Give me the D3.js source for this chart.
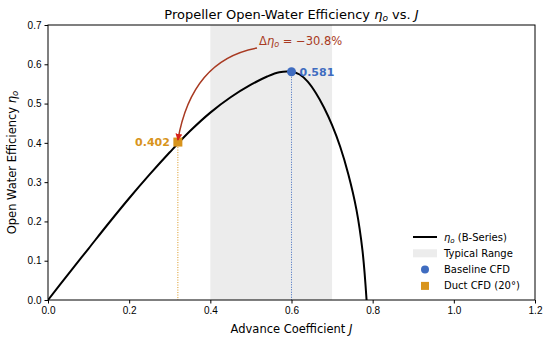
<!DOCTYPE html>
<html>
<head>
<meta charset="utf-8">
<script src="https://cdn.jsdelivr.net/npm/d3@7/dist/d3.min.js"></script>
<style>
  body { margin: 0; background: #fff; }
  svg { font-family: "DejaVu Sans", sans-serif; }
  .axis text { font-size: 10px; fill: #000; }
  .axis path, .axis line { stroke: #000; }
</style>
</head>
<body>
<div id="chart"></div>
<script>
// data
var advanceJ = [0, 0.05, 0.1, 0.15, 0.2, 0.25, 0.3, 0.35, 0.4, 0.45, 0.5, 0.54, 0.57, 0.6, 0.62, 0.64, 0.66, 0.68, 0.7, 0.72, 0.74, 0.76, 0.775, 0.785];
var etaO = [0, 0.066, 0.131, 0.196, 0.259, 0.319, 0.376, 0.43, 0.477, 0.516, 0.548, 0.569, 0.58, 0.581, 0.574, 0.556, 0.527, 0.49, 0.445, 0.39, 0.32, 0.23, 0.125, 0];
var typicalRange = [0.4, 0.7];
var baselinePoint = { J: 0.6, eta: 0.581, label: "0.581" };
var ductPoint = { J: 0.32, eta: 0.402, label: "0.402" };
var xTicks = [0, 0.2, 0.4, 0.6, 0.8, 1.0, 1.2];
var yTicks = [0, 0.1, 0.2, 0.3, 0.4, 0.5, 0.6, 0.7];
var legendLabels = ["(B-Series)", "Typical Range", "Baseline CFD", "Duct CFD (20°)"];
var annotationText = " = −30.8%";

var width = 550, height = 340;
var margins = { top: 25, right: 15, bottom: 40, left: 48 };
var chartWidth = width - margins.left - margins.right;
var chartHeight = height - margins.top - margins.bottom;

var blue = "#3f6cc0", orange = "#d8941c", arrowRed = "#a83a22";

var svg = d3.select("#chart").append("svg")
  .attr("width", width)
  .attr("height", height);

var chartElement = svg.append("g")
  .attr("transform", `translate(${margins.left},${margins.top})`);

var xScale = d3.scaleLinear().domain([0, 1.2]).range([0, chartWidth]);
var yScale = d3.scaleLinear().domain([0, 0.7]).range([chartHeight, 0]);

svg.append("defs").html(`
  <clipPath id="plot-clip"><rect x="0" y="0" width="${chartWidth}" height="${chartHeight}"></rect></clipPath>
  <marker id="head" viewBox="0 0 10 10" refX="9" refY="5" markerWidth="7" markerHeight="7" orient="auto" markerUnits="userSpaceOnUse">
    <path d="M0,0 L10,5 L0,10 z" fill="#d8231a"></path>
  </marker>`);

// typical range band
chartElement.append("rect")
  .attr("x", xScale(typicalRange[0]))
  .attr("y", 0)
  .attr("width", xScale(typicalRange[1]) - xScale(typicalRange[0]))
  .attr("height", chartHeight)
  .attr("fill", "#ececec");

// efficiency curve
var line = d3.line()
  .x((d, i) => xScale(advanceJ[i]))
  .y(d => yScale(d))
  .curve(d3.curveCatmullRom.alpha(0.5));

chartElement.append("path")
  .datum(etaO)
  .attr("clip-path", "url(#plot-clip)")
  .attr("fill", "none")
  .attr("stroke", "#000")
  .attr("stroke-width", 2)
  .attr("d", line);

// dotted drop lines
[[ductPoint, orange], [baselinePoint, blue]].forEach(([p, c]) => {
  chartElement.append("line")
    .attr("x1", xScale(p.J)).attr("x2", xScale(p.J))
    .attr("y1", yScale(p.eta)).attr("y2", chartHeight)
    .attr("stroke", c)
    .attr("stroke-width", 1)
    .attr("stroke-dasharray", "1,1.5");
});

// points
chartElement.append("circle")
  .attr("cx", xScale(baselinePoint.J))
  .attr("cy", yScale(baselinePoint.eta))
  .attr("r", 4.5)
  .attr("fill", blue);

chartElement.append("rect")
  .attr("x", xScale(ductPoint.J) - 4.5)
  .attr("y", yScale(ductPoint.eta) - 4.5)
  .attr("width", 9).attr("height", 9)
  .attr("fill", orange);

chartElement.append("text")
  .attr("x", xScale(baselinePoint.J) + 8)
  .attr("y", yScale(baselinePoint.eta) + 4)
  .attr("font-size", 11).attr("font-weight", "bold")
  .attr("fill", blue)
  .text(baselinePoint.label);

chartElement.append("text")
  .attr("x", xScale(ductPoint.J) - 8)
  .attr("y", yScale(ductPoint.eta) + 4)
  .attr("text-anchor", "end")
  .attr("font-size", 11).attr("font-weight", "bold")
  .attr("fill", orange)
  .text(ductPoint.label);

// annotation arrow (curved, like arc3)
var ax0 = 209, ay0 = 23;
var ax1 = xScale(ductPoint.J), ay1 = yScale(ductPoint.eta) - 2;
chartElement.append("path")
  .attr("d", `M${ax0},${ay0} Q${ax1 + 14},${ay0 + 12} ${ax1},${ay1}`)
  .attr("fill", "none")
  .attr("stroke", arrowRed)
  .attr("stroke-width", 1.5)
  .attr("marker-end", "url(#head)");

var ann = chartElement.append("text")
  .attr("x", ax0 + 2)
  .attr("y", 20)
  .attr("font-size", 11.5)
  .attr("fill", arrowRed);
ann.append("tspan").text("Δ");
ann.append("tspan").attr("font-style", "italic").text("η");
ann.append("tspan").attr("font-style", "italic").attr("font-size", 8).attr("dy", 2).text("o");
ann.append("tspan").attr("dy", -2).text(annotationText);

// axes
var xAxis = d3.axisBottom(xScale).tickValues(xTicks).tickSize(3.5).tickPadding(3).tickFormat(d3.format(".1f"));
var yAxis = d3.axisLeft(yScale).tickValues(yTicks).tickSize(3.5).tickPadding(3).tickFormat(d3.format(".1f"));

chartElement.append("g")
  .attr("class", "x axis")
  .attr("transform", `translate(0,${chartHeight})`)
  .call(xAxis)
  .call(g => g.select(".domain").remove());

chartElement.append("g")
  .attr("class", "y axis")
  .call(yAxis)
  .call(g => g.select(".domain").remove());

chartElement.append("rect")
  .attr("width", chartWidth).attr("height", chartHeight)
  .attr("fill", "none").attr("stroke", "#000").attr("stroke-width", 1);

// titles
var title = svg.append("text")
  .attr("x", margins.left + chartWidth / 2).attr("y", 19)
  .attr("text-anchor", "middle")
  .attr("font-size", 13);
title.append("tspan").text("Propeller Open-Water Efficiency ");
title.append("tspan").attr("font-style", "italic").text("η");
title.append("tspan").attr("font-style", "italic").attr("font-size", 9).attr("dy", 2).text("o");
title.append("tspan").attr("dy", -2).text(" vs. ");
title.append("tspan").attr("font-style", "italic").text("J");

var xl = svg.append("text")
  .attr("x", margins.left + chartWidth / 2).attr("y", 333)
  .attr("text-anchor", "middle")
  .attr("font-size", 11.5);
xl.append("tspan").text("Advance Coefficient ");
xl.append("tspan").attr("font-style", "italic").text("J");

var yl = svg.append("text")
  .attr("transform", `translate(16,${margins.top + chartHeight / 2}) rotate(-90)`)
  .attr("text-anchor", "middle")
  .attr("font-size", 11.5);
yl.append("tspan").text("Open Water Efficiency ");
yl.append("tspan").attr("font-style", "italic").text("η");
yl.append("tspan").attr("font-style", "italic").attr("font-size", 8.5).attr("dy", 2).text("o");

// legend
var legend = svg.append("g").attr("transform", "translate(413,237)");
var rowH = 16.3;
legend.append("line").attr("x1", 0).attr("x2", 24).attr("y1", 0).attr("y2", 0)
  .attr("stroke", "#000").attr("stroke-width", 2);
legend.append("rect").attr("x", 0).attr("y", rowH - 4).attr("width", 24).attr("height", 8).attr("fill", "#ececec");
legend.append("circle").attr("cx", 12).attr("cy", rowH * 2).attr("r", 4).attr("fill", blue);
legend.append("rect").attr("x", 8).attr("y", rowH * 3 - 4).attr("width", 8).attr("height", 8).attr("fill", orange);

legendLabels.forEach((t, i) => {
  var tx = legend.append("text")
    .attr("x", 31).attr("y", i * rowH + 3.5)
    .attr("font-size", 10);
  if (i === 0) {
    tx.append("tspan").attr("font-style", "italic").text("η");
    tx.append("tspan").attr("font-style", "italic").attr("font-size", 7).attr("dy", 2).text("o");
    tx.append("tspan").attr("dy", -2).text(" " + t);
  } else {
    tx.text(t);
  }
});
</script>
</body>
</html>
